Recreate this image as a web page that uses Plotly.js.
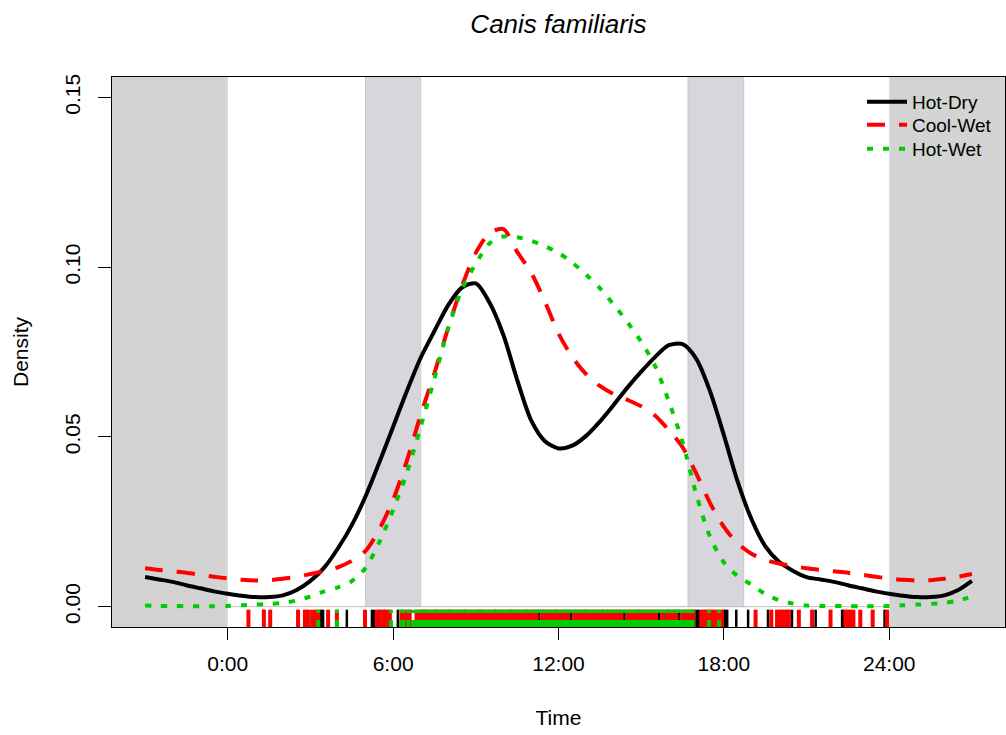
<!DOCTYPE html>
<html>
<head>
<meta charset="utf-8">
<script src="https://cdn.plot.ly/plotly-3.0.1.min.js"></script>
<style>html,body{margin:0;padding:0;background:#fff;}#chart{width:1006px;height:735px;}</style>
</head>
<body>
<div id="chart"></div>
<script>
// Time grid (hours) of the density curves
const hours = [-3,-2.5,-2,-1.5,-1,-0.5,0,0.5,1,1.5,2,2.5,3,3.5,4,4.5,5,5.5,6,6.5,7,7.5,8,8.5,9,9.5,10,10.5,11,11.5,12,12.5,13,13.5,14,14.5,15,15.5,16,16.5,17,17.5,18,18.5,19,19.5,20,20.5,21,21.5,22,22.5,23,23.5,24,24.5,25,25.5,26,26.5,27];

const hotDry = [0.0087,0.0080,0.0073,0.0063,0.0054,0.0045,0.0038,0.0032,0.0028,0.0028,0.0033,0.0049,0.0076,0.0115,0.0172,0.0240,0.0325,0.0425,0.0530,0.0635,0.0733,0.0812,0.0888,0.0940,0.0952,0.0895,0.0800,0.0668,0.0550,0.0488,0.0466,0.0474,0.0503,0.0545,0.0594,0.0645,0.0692,0.0735,0.0770,0.0773,0.0730,0.0634,0.0505,0.0368,0.0258,0.0178,0.0132,0.0106,0.0087,0.0080,0.0073,0.0063,0.0054,0.0045,0.0038,0.0032,0.0028,0.0028,0.0033,0.0049,0.0076];

const coolWet = [0.0113,0.0108,0.0104,0.0100,0.0094,0.0088,0.0083,0.0079,0.0077,0.0078,0.0082,0.0088,0.0096,0.0105,0.0116,0.0135,0.0164,0.0228,0.0315,0.0430,0.0565,0.0688,0.0822,0.0945,0.1042,0.1100,0.1112,0.1045,0.0985,0.0900,0.0805,0.0735,0.0685,0.0650,0.0626,0.0609,0.0590,0.0563,0.0520,0.0470,0.0392,0.0305,0.0235,0.0186,0.0156,0.0138,0.0127,0.0120,0.0113,0.0108,0.0104,0.0100,0.0094,0.0088,0.0083,0.0079,0.0077,0.0078,0.0082,0.0088,0.0096];

const hotWet = [0.0003,0.0002,0.0002,0.0001,0.0001,0.0001,0.0002,0.0004,0.0006,0.0008,0.0011,0.0018,0.0030,0.0045,0.0057,0.0075,0.0114,0.0190,0.0285,0.0395,0.0530,0.0672,0.0820,0.0935,0.1010,0.1070,0.1090,0.1088,0.1078,0.1062,0.1042,0.1013,0.0978,0.0938,0.0890,0.0838,0.0780,0.0710,0.0605,0.0485,0.0330,0.0205,0.0130,0.0090,0.0065,0.0037,0.0019,0.0009,0.0003,0.0002,0.0002,0.0001,0.0001,0.0001,0.0002,0.0004,0.0006,0.0008,0.0011,0.0018,0.0030];

// Observation times (rug), hours
const rugHotDry = [1.30,3.38,3.46,4.32,5.23,5.30,5.49,5.70,6.17,7.12,7.55,8.05,8.60,9.15,9.70,10.25,10.80,11.30,11.90,12.46,13.00,13.60,14.39,14.90,15.65,16.00,16.38,16.93,17.02,17.09,18.00,18.06,18.12,18.45,18.88,19.60,20.47,21.33,22.29,22.34,23.83];

const rugCoolWet = [0.75,1.31,1.54,2.55,2.80,2.91,3.06,3.20,3.28,3.64,3.96,4.98,5.41,5.56,5.63,5.77,5.88,6.30,6.37,6.50,6.60,
 6.85,6.95,7.06,7.16,7.27,7.38,7.48,7.59,7.70,7.81,7.91,8.02,8.13,8.24,8.34,8.45,8.56,8.67,8.77,8.88,8.99,9.10,9.20,9.31,9.42,9.53,9.63,9.74,9.85,9.96,10.06,10.17,10.28,10.39,10.49,10.60,10.71,10.82,10.92,11.03,11.14,11.20,
 11.41,11.50,11.61,11.72,11.83,11.93,12.04,12.15,12.26,12.35,12.57,12.66,12.77,12.88,12.98,13.09,13.20,13.31,13.41,13.52,13.63,13.74,13.84,13.95,14.06,14.17,14.27,
 14.50,14.60,14.71,14.82,14.92,15.03,15.14,15.25,15.35,15.45,15.54,15.76,15.86,15.97,16.08,16.18,16.27,16.49,16.59,16.70,16.80,16.88,
 17.18,17.27,17.36,17.45,17.55,17.64,17.73,17.83,17.93,19.15,19.72,19.93,20.02,20.11,20.20,20.29,20.36,20.72,21.20,21.87,22.41,22.50,22.60,22.70,22.95,23.40,23.92];

const rugHotWet = [3.28,3.96,5.92,6.30,6.37,6.55,6.72,
 6.86,6.97,7.08,7.19,7.30,7.41,7.52,7.63,7.74,7.85,7.96,8.07,8.18,8.29,8.40,8.51,8.62,8.73,8.84,8.95,9.06,9.17,9.28,9.39,9.50,9.61,9.72,9.83,9.94,10.05,10.16,10.27,10.38,10.49,10.60,10.71,10.82,10.93,11.04,11.15,11.26,11.37,11.48,11.59,11.70,11.81,11.92,12.03,12.14,12.25,12.36,12.47,12.58,12.69,12.80,12.91,13.02,13.13,13.24,13.35,13.46,13.57,13.68,13.79,13.90,14.01,14.12,14.23,14.34,14.45,14.56,14.67,14.78,14.89,15.00,15.11,15.22,15.33,15.44,15.55,15.66,15.77,15.88,15.99,16.10,16.21,16.32,16.43,16.54,16.65,16.76,16.86,
 17.46,17.82];

const seriesNames = ["Hot-Dry","Cool-Wet","Hot-Wet"];
const tickHours = [0,6,12,18,24];
const tickLabels = ["0:00","6:00","12:00","18:00","24:00"];
const yTicks = [0,0.05,0.10,0.15];
const yTickLabels = ["0.00","0.05","0.10","0.15"];

const YMIN = -0.0060, YMAX = 0.1560, RUGTOP = -0.0009;
function rugXY(times){
  const x=[], y=[];
  times.forEach(t=>{ x.push(t,t,null); y.push(YMIN,RUGTOP,null); });
  return {x,y};
}
const rD = rugXY(rugHotDry), rC = rugXY(rugCoolWet), rW = rugXY(rugHotWet);
const FONT = "Liberation Sans, Arial, sans-serif";

const traces = [
  {x:rD.x, y:rD.y, mode:"lines", line:{color:"#000000", width:2.5}, showlegend:false, hoverinfo:"skip"},
  {x:rC.x, y:rC.y, mode:"lines", line:{color:"#FF0000", width:4}, showlegend:false, hoverinfo:"skip"},
  {x:rW.x, y:rW.y, mode:"lines", line:{color:"#00CD00", width:4, dash:"7px,7px"}, showlegend:false, hoverinfo:"skip"},
  {x:hours, y:hotDry, name:seriesNames[0], legend:"legend", mode:"lines", line:{color:"#000000", width:4, shape:"spline", smoothing:0.8}},
  {x:hours, y:coolWet, name:seriesNames[1], legend:"legend2", mode:"lines", line:{color:"#FF0000", width:4, dash:"18px,14px", shape:"spline", smoothing:0.8}},
  {x:hours, y:hotWet, name:seriesNames[2], legend:"legend3", mode:"lines", line:{color:"#00CD00", width:4, dash:"6px,10px", shape:"spline", smoothing:0.8}}
];

function leg(yc){
  return {x:(862-112)/893, xref:"paper", y:(627-yc)/550, yref:"paper", xanchor:"left", yanchor:"middle",
    bgcolor:"rgba(0,0,0,0)", borderwidth:0, font:{family:FONT, size:19, color:"#000"}, itemwidth:40};
}

const layout = {
  width:1006, height:735,
  margin:{l:112, r:1, t:77, b:108},
  paper_bgcolor:"#ffffff", plot_bgcolor:"#ffffff",
  font:{family:FONT, color:"#000000", size:21},
  title:{text:"<i>Canis familiaris</i>", font:{family:FONT, size:26, color:"#000"}, xref:"paper", x:0.5, xanchor:"center", yref:"container", y:1-24/735, yanchor:"middle"},
  xaxis:{range:[-4.2,28.2], tickvals:tickHours, ticktext:tickLabels, ticks:"outside", ticklen:12, tickwidth:1, tickcolor:"#000",
    showline:true, mirror:true, linecolor:"#000", linewidth:1, showgrid:false, zeroline:false,
    tickfont:{family:FONT, size:21, color:"#000"}, ticklabelstandoff:6,
    title:{text:"Time", font:{family:FONT, size:21, color:"#000"}, standoff:36}, automargin:true},
  yaxis:{range:[YMIN,YMAX], tickvals:yTicks, ticktext:yTickLabels, tickangle:-90, ticks:"outside", ticklen:13, tickwidth:1, tickcolor:"#000",
    showline:true, mirror:true, linecolor:"#000", linewidth:1, showgrid:false, zeroline:false,
    tickfont:{family:FONT, size:21, color:"#000"}, ticklabelstandoff:10,
    title:{text:"Density", font:{family:FONT, size:21, color:"#000"}, standoff:26}, automargin:true},
  legend:leg(102),
  legend2:leg(125),
  legend3:leg(149),
  shapes:[
    {type:"rect", layer:"below", xref:"x", yref:"paper", x0:-4.2, x1:0, y0:0, y1:1, fillcolor:"#D3D3D3", line:{width:0}},
    {type:"rect", layer:"below", xref:"x", yref:"paper", x0:24, x1:28.2, y0:0, y1:1, fillcolor:"#D3D3D3", line:{width:0}},
    {type:"rect", layer:"below", xref:"x", yref:"y", x0:5, x1:7, y0:0, y1:YMAX, fillcolor:"#D6D6DC", line:{color:"#C8C8D0", width:1}},
    {type:"rect", layer:"below", xref:"x", yref:"y", x0:16.7, x1:18.72, y0:0, y1:YMAX, fillcolor:"#D6D6DC", line:{color:"#C8C8D0", width:1}},
    {type:"line", layer:"below", xref:"x", yref:"y", x0:0, x1:24, y0:0, y1:0, line:{color:"#BEBEBE", width:1}}
  ]
};

Plotly.newPlot("chart", traces, layout, {displayModeBar:false, staticPlot:true});
</script>
</body>
</html>
